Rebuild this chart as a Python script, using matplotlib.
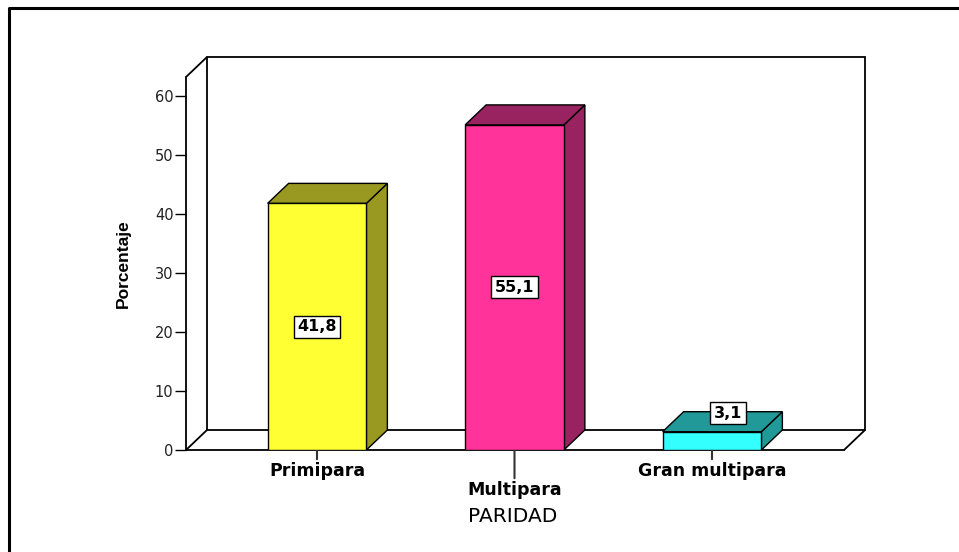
import numpy as np
import matplotlib
matplotlib.use("Agg")
import matplotlib.pyplot as plt
from matplotlib.patches import Polygon, Rectangle
from matplotlib.lines import Line2D

# data
categories = ["Primipara", "Multipara", "Gran multipara"]
percent = [41.8, 55.1, 3.1]
front_colors = ["#FFFF33", "#FF3399", "#33FFFF"]
side_colors = ["#999922", "#992260", "#229999"]
yticks = [0, 10, 20, 30, 40, 50, 60]

W, H = 959, 552
fig = plt.figure(figsize=(W / 100, H / 100), dpi=100)
fig.patch.set_facecolor("white")

# axes = front plane of the 3D box (pixel bounds)
px_l, px_r, px_b, px_t = 186, 844, 450, 77
ax = fig.add_axes([px_l / W, 1 - px_b / H, (px_r - px_l) / W, (px_b - px_t) / H])
ax.set_facecolor("none")

ppu_y = 5.9            # pixels per percent
ppu_x = 197.5          # pixels per category step
ymax = (px_b - px_t) / ppu_y
xlo = -(317 - px_l) / ppu_x
xhi = xlo + (px_r - px_l) / ppu_x
ax.set_xlim(xlo, xhi)
ax.set_ylim(0, ymax)

# depth offset of the pseudo-3D box, in data units
dx = 21 / ppu_x
dy = 20 / ppu_y
lw = 1.3
line_kw = dict(color="black", lw=lw, clip_on=False, solid_capstyle="butt")

# back wall, left wall and floor
ax.add_patch(Rectangle((xlo + dx, dy), xhi - xlo, ymax, fill=False,
                       edgecolor="black", lw=lw, clip_on=False, zorder=1))
ax.plot([xlo, xlo + dx], [0, dy], zorder=1, **line_kw)
ax.plot([xlo, xlo + dx], [ymax, ymax + dy], zorder=1, **line_kw)
ax.plot([xhi, xhi + dx], [0, dy], zorder=1, **line_kw)

for s in ["top", "right"]:
    ax.spines[s].set_visible(False)
for s in ["left", "bottom"]:
    ax.spines[s].set_linewidth(lw)
    ax.spines[s].set_zorder(2)

# bars
x = np.arange(len(categories))
bw = 0.5
ax.bar(x, percent, width=bw, color=front_colors, edgecolor="black", lw=1, zorder=5)
for xi, v, sc in zip(x, percent, side_colors):
    r = xi + bw / 2
    l = xi - bw / 2
    side = Polygon([(r, 0), (r + dx, dy), (r + dx, v + dy), (r, v)], closed=True,
                   facecolor=sc, edgecolor="black", lw=1, zorder=4)
    top = Polygon([(l, v), (l + dx, v + dy), (r + dx, v + dy), (r, v)], closed=True,
                  facecolor=sc, edgecolor="black", lw=1, zorder=4)
    ax.add_patch(side)
    ax.add_patch(top)

# value labels
box = dict(boxstyle="square,pad=0.22", facecolor="white", edgecolor="black", lw=1)
for xi, v in zip(x, percent):
    txt = f"{v:.1f}".replace(".", ",")
    if v > 10:
        ax.text(xi, v / 2, txt, ha="center", va="center", fontsize=11.5,
                fontweight="bold", bbox=box, zorder=7)
    else:
        cx, cy = xi + dx / 2, v + dy / 2
        ax.annotate(txt, xy=(cx, cy), xytext=(cx + 0.028, cy + 1.4),
                    ha="center", va="center", fontsize=11.5, fontweight="bold",
                    bbox=box, zorder=7,
                    arrowprops=dict(arrowstyle="-", color="black", lw=1,
                                    shrinkA=0, shrinkB=0))

# y axis
ax.set_yticks(yticks)
ax.tick_params(axis="y", direction="out", length=8, width=1, pad=1,
               labelsize=10.5, labelcolor="#222222")

# category axis: hand-made ticks so the middle label can be staggered
ax.set_xticks([])
drops = [12, 31, 12]   # pixel drop of each label below the axis
for xi, name, d in zip(x, categories, drops):
    ax.annotate(name, xy=(xi, 0), xytext=(0, -d * 0.72), textcoords="offset points",
                ha="center", va="top", fontsize=12.5, fontweight="bold",
                annotation_clip=False,
                arrowprops=dict(arrowstyle="-", color="#333333", lw=1.5,
                                shrinkA=0, shrinkB=0))

ax.set_xlabel("PARIDAD", fontsize=14.5, va="center")
ax.xaxis.set_label_coords((513 - px_l) / (px_r - px_l), -(517 - px_b) / (px_b - px_t))
ax.set_ylabel("Porcentaje", fontsize=12.5, fontweight="bold", family="Liberation Sans")
ax.yaxis.set_label_coords(-(px_l - 131) / (px_r - px_l), (px_b - 264) / (px_b - px_t))

# outer frame of the original export (left and top edges only)
fig.add_artist(Line2D([9 / W, 9 / W, 1.01], [-0.01, 1 - 8 / H, 1 - 8 / H],
                      transform=fig.transFigure, color="black", lw=2.2))

fig.savefig("out.png", dpi=100, facecolor="white")
